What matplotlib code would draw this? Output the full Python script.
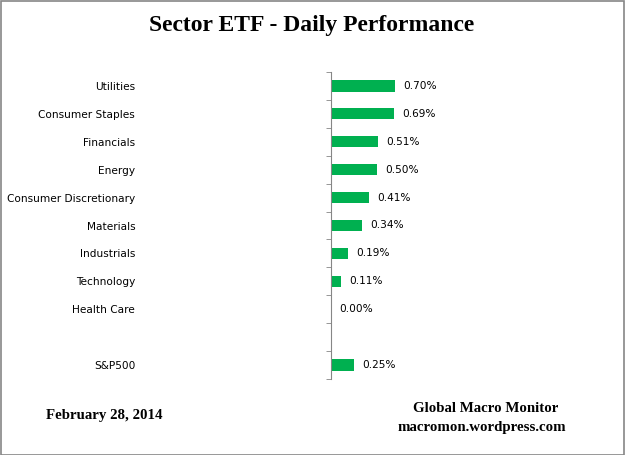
import matplotlib
matplotlib.use("Agg")
import matplotlib.pyplot as plt
import numpy as np

# sector daily returns (%)
sectors = ["Utilities", "Consumer Staples", "Financials", "Energy",
           "Consumer Discretionary", "Materials", "Industrials",
           "Technology", "Health Care"]
sector_values = [0.70, 0.69, 0.51, 0.50, 0.41, 0.34, 0.19, 0.11, 0.00]
index_name = "S&P500"
index_value = 0.25

labels = sectors + [""] + [index_name]
values = sector_values + [np.nan] + [index_value]

W, H = 625, 455
fig = plt.figure(figsize=(W / 100, H / 100), dpi=100)

# axes placed so the value axis sits at x=331px, spanning y=72..379px
ax = fig.add_axes([331 / W, (H - 379) / H, (600 - 331) / W, (379 - 72) / H])

n = len(labels)
ypos = np.arange(n)
ax.barh(ypos, values, height=0.4, color="#00B050")
ax.set_ylim(n - 0.5, -0.5)
ax.set_xlim(0, 2.94)

for y, v in zip(ypos, values):
    if np.isnan(v):
        continue
    ax.annotate(f"{v:.2f}%", (v, y), xytext=(6, 0), textcoords="offset points",
                va="center", ha="left", fontsize=7.6, family="DejaVu Sans")

for s in ["top", "right", "bottom"]:
    ax.spines[s].set_visible(False)
ax.spines["left"].set_color("#868686")
ax.set_xticks([])
ax.set_yticks(ypos)
ax.set_yticklabels(labels, fontsize=7.6, family="DejaVu Sans")
ax.tick_params(axis="y", which="major", length=0, pad=141)
ax.set_yticks(np.arange(n + 1) - 0.5, minor=True)
ax.tick_params(axis="y", which="minor", length=3.5, color="#868686")

fig.text(312 / W, 1 - 25 / H, "Sector ETF - Daily Performance", ha="center",
         va="center", fontsize=17, fontweight="bold", family="Liberation Serif")
fig.text(104 / W, 1 - 416 / H, "February 28, 2014", ha="center", va="center",
         fontsize=10.7, fontweight="bold", family="Liberation Serif")
fig.text(486 / W, 1 - 409 / H, "Global Macro Monitor", ha="center", va="center",
         fontsize=10.7, fontweight="bold", family="Liberation Serif")
fig.text(482 / W, 1 - 427 / H, "macromon.wordpress.com", ha="center", va="center",
         fontsize=10.7, fontweight="bold", family="Liberation Serif")

# outer border
fig.patches.append(plt.Rectangle((0.5 / W, 0.5 / H), 1 - 1.5 / W, 1 - 1.5 / H,
                                 transform=fig.transFigure, fill=False,
                                 edgecolor="#868686", linewidth=1.2))

fig.savefig("out.png", dpi=100)
